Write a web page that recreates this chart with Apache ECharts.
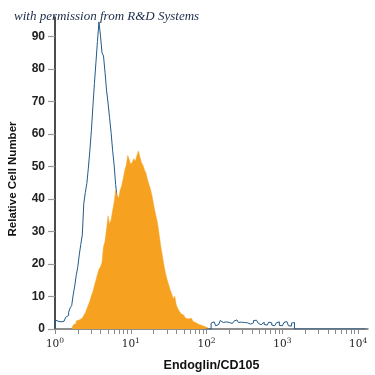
<!DOCTYPE html>
<html><head><meta charset="utf-8">
<script src="https://cdn.jsdelivr.net/npm/echarts@6/dist/echarts.min.js"></script>
<style>html,body{margin:0;padding:0;background:#fff}#c{width:375px;height:375px}</style>
</head><body><div id="c"></div>
<script>
// histogram channels, log10 units
const binWidth = 0.02;
const isotypeStart = 0.0;
const isotypeCounts = [2.8,2.4,1.8,2.2,2.6,2.4,3.0,3.6,4.2,5.2,6.5,7.2,10.5,13.2,16.5,19.0,22.8,26.0,29.0,38.7,42.0,44.8,49.5,55.0,61.0,68.5,75.5,82.0,88.5,94.5,90.2,85.0,84.0,79.0,73.5,69.5,65.0,60.5,55.0,50.5,44.5,40.0,34.5,30.0,25.5,21.5,18.0,14.5,11.5,9.0,7.0,5.0,3.2,2.0,1.2,0.6];
const isotypeTailStart = 2.06;
const isotypeTailCounts = [1.8,2.2,1.9,1.0,1.4,2.0,2.6,2.0,1.8,2.2,1.6,2.0,2.3,1.7,1.9,2.4,2.8,2.6,2.0,2.1,1.8,2.0,1.7,1.9,1.6,1.5,2.0,1.9,2.6,2.7,2.2,1.8,1.3,1.9,2.1,1.4,1.2,1.8,2.1,1.9,1.2,1.0,1.0,1.9,2.2,1.1,1.0,1.3,2.0,2.3,2.1,1.0,0.9,1.8,2.0];
const endoglinStart = 0.22;
const endoglinCounts = [0.6,1.2,1.8,2.5,2.8,3.0,3.3,3.1,4.2,4.9,6.2,7.4,8.6,10.2,11.5,13.4,15.0,16.8,18.4,19.1,20.5,25.3,27.0,30.6,34.8,32.2,33.6,36.4,38.9,42.6,41.0,40.2,42.8,44.1,46.2,48.8,50.3,53.4,52.1,50.6,51.3,52.4,51.6,53.3,54.8,53.0,51.2,50.4,49.0,48.0,46.0,44.5,43.0,41.0,38.5,36.0,34.0,31.5,28.0,24.8,22.1,19.2,17.0,15.1,13.6,12.0,10.8,9.3,10.1,7.4,6.3,5.5,4.8,4.2,3.7,3.4,3.1,2.9,3.3,2.8,2.4,1.9,1.6,1.4,1.2,1.1,0.9,0.7,0.5,0.3];
const xTickLabels = [0,1,2,3,4];
const yTickValues = [0,10,20,30,40,50,60,70,80,90];
const xMin = 0, xMax = 4.13, yMax = 96;

function bins(start, counts){
  const out = counts.map((v,i)=>[+(start+i*binWidth).toFixed(4), v]);
  out.push([+(start+counts.length*binWidth).toFixed(4), 0]);
  return out;
}
const isoData = [[0,0]].concat(bins(isotypeStart, isotypeCounts), bins(isotypeTailStart, isotypeTailCounts), [[4.1,0]]);
const endoData = [[endoglinStart,0]].concat(bins(endoglinStart, endoglinCounts));

const minorTicks = [];
for (let n=0;n<4;n++){ for (let k=1;k<10;k++){ minorTicks.push(n+Math.log10(k)); } }
minorTicks.push(4);

const chart = echarts.init(document.getElementById('c'), null, {renderer:'canvas'});
chart.setOption({
  animation:false,
  title:{text:'with permission from R&D Systems', left:9, top:5,
    textStyle:{fontFamily:'Liberation Serif', fontStyle:'italic', fontWeight:'normal', fontSize:13, color:'#1b2a4a'}},
  grid:{left:55, right:7, top:17, bottom:46, containLabel:false, outerBoundsMode:'none'},
  xAxis:{type:'value', min:xMin, max:xMax,
    name:'Endoglin/CD105', nameLocation:'middle', nameGap:30,
    nameTextStyle:{fontFamily:'Liberation Sans, sans-serif', fontWeight:'bold', fontSize:12.5, color:'#111'},
    axisLine:{show:true, onZero:false, lineStyle:{color:'#6a6a6a', width:1.5}},
    axisTick:{show:true, inside:false, length:5, customValues:minorTicks, lineStyle:{color:'#8a8a8a', width:1}},
    axisLabel:{customValues:xTickLabels, margin:8, formatter:(v)=>'{b|10}{s|'+Math.round(v)+'}',
      rich:{b:{fontFamily:'DejaVu Serif', fontSize:10.5, color:'#222', lineHeight:14},
            s:{fontFamily:'DejaVu Serif', fontSize:7.5, color:'#222', verticalAlign:'top', lineHeight:14, padding:[0,0,6,0]}}},
    splitLine:{show:false}},
  yAxis:{type:'value', min:0, max:yMax,
    name:'Relative Cell Number', nameLocation:'middle', nameGap:36, nameRotate:90,
    nameTextStyle:{fontFamily:'Liberation Sans, sans-serif', fontWeight:'bold', fontSize:11.5, color:'#111', padding:[0,12,0,0]},
    axisLine:{show:true, lineStyle:{color:'#111', width:1.5}},
    axisTick:{show:true, length:7, customValues:yTickValues, lineStyle:{color:'#999', width:1.2}},
    axisLabel:{customValues:yTickValues, margin:10, fontFamily:'Liberation Sans, Arial, sans-serif', fontWeight:'bold', fontSize:12, color:'#222'},
    splitLine:{show:false}},
  series:[
    {type:'line', name:'Isotype', data:isoData, step:'end', showSymbol:false, symbol:'none', z:2,
      lineStyle:{color:'#245a88', width:1}},
    {type:'line', name:'Endoglin', data:endoData, step:'end', showSymbol:false, symbol:'none', z:3,
      lineStyle:{color:'#f6a220', width:0.5}, areaStyle:{color:'#f6a220', opacity:1}}
  ]
});
</script></body></html>
